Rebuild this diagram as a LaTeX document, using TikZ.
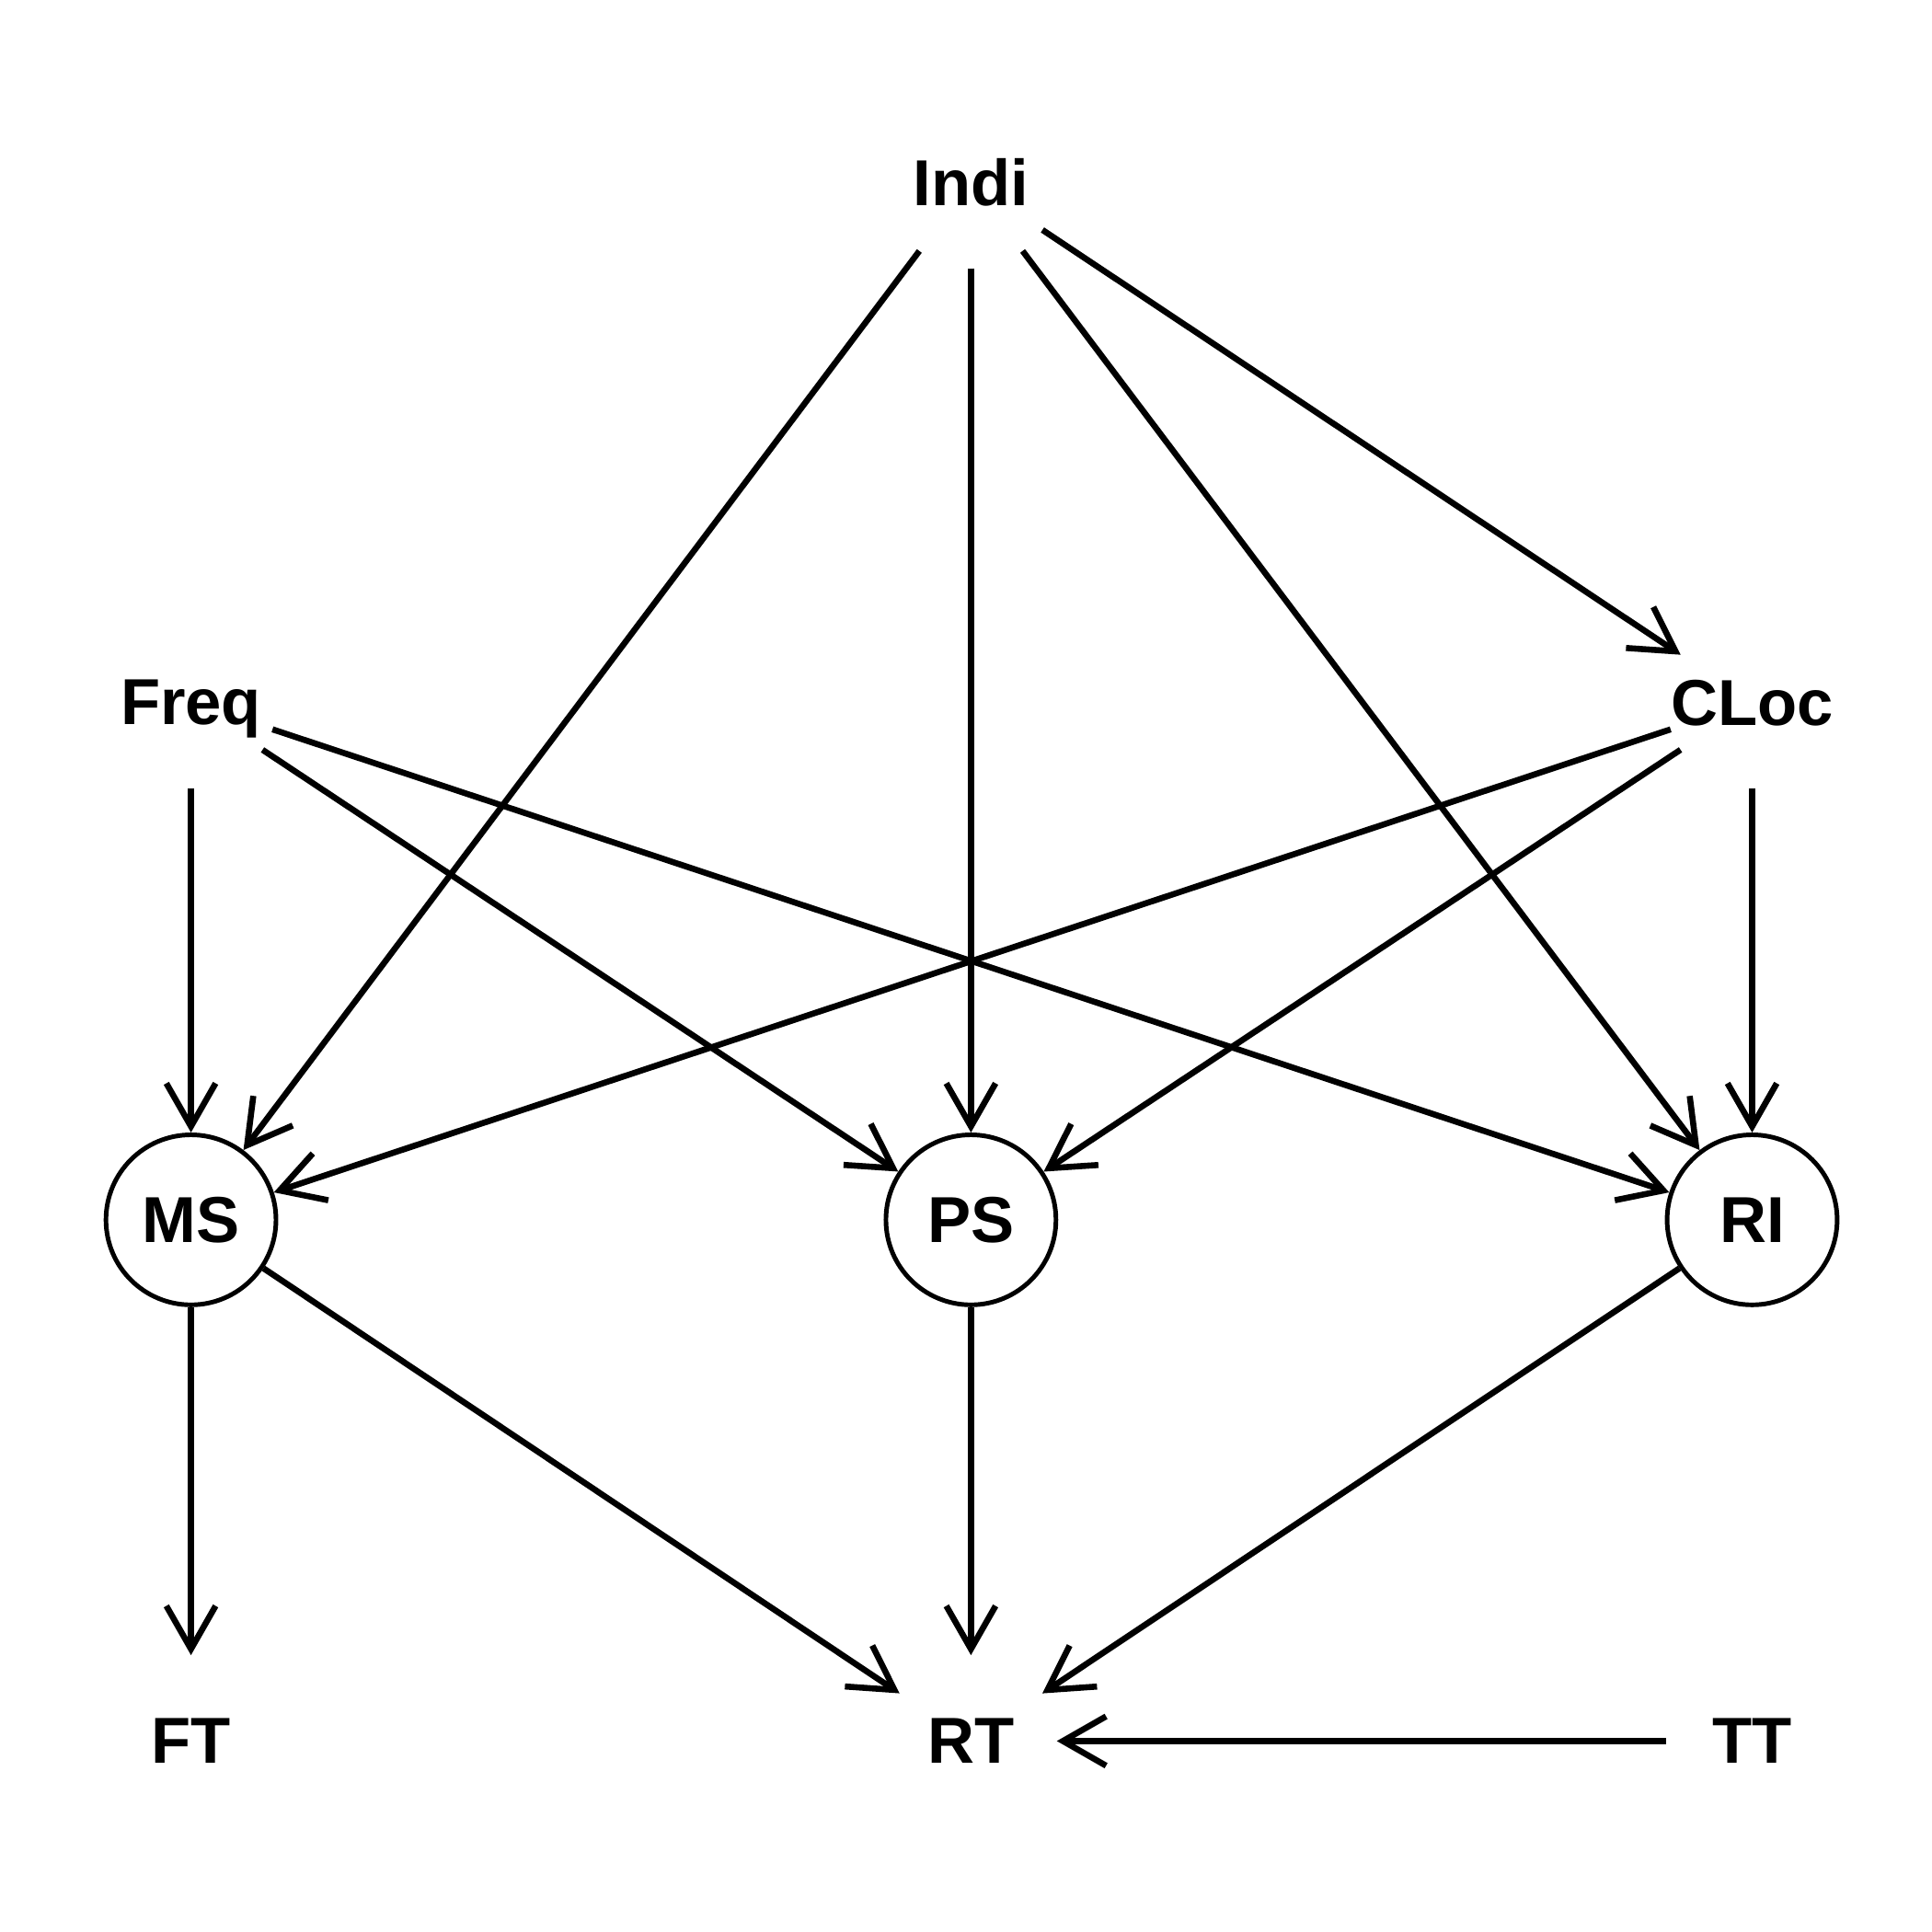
\documentclass[tikz,border=0pt]{standalone}
\usepackage{fontspec}
\setmainfont{Liberation Sans}
\usetikzlibrary{arrows.meta, positioning}

\begin{document}
\begin{tikzpicture}[
    font=\fontsize{15}{18}\selectfont\bfseries,
    var/.style={circle, minimum size=1.38cm, inner sep=0pt, text depth=0pt},
    latent/.style={var, draw, line width=1.05pt},
    edge/.style={-{Straight Barb[length=3.5mm, width=4mm]}, line width=1.4pt}
]
\useasboundingbox (0,0) rectangle (15.68,-15.68);
%
\node[var] (indi) at (7.88,-1.48) {Indi};
\node[var] (freq) at (1.55,-5.70) {Freq};
\node[var] (cloc) at (14.22,-5.70) {CLoc};
\node[latent] (ms) at (1.55,-9.90) {MS};
\node[latent] (ps) at (7.88,-9.90) {PS};
\node[latent] (ri) at (14.22,-9.90) {RI};
\node[var] (ft) at (1.55,-14.13) {FT};
\node[var] (rt) at (7.88,-14.13) {RT};
\node[var] (tt) at (14.22,-14.13) {TT};

%
\foreach \to in {ms, ps, ri, cloc}
    \draw[edge] (indi) -- (\to);
\foreach \src in {freq, cloc}
    \foreach \to in {ms, ps, ri}
        \draw[edge] (\src) -- (\to);
\draw[edge] (ms) -- (ft);
\draw[edge] (ms) -- (rt);
\draw[edge] (ps) -- (rt);
\draw[edge] (ri) -- (rt);
\draw[edge] (tt) -- (rt);
\end{tikzpicture}
\end{document}
